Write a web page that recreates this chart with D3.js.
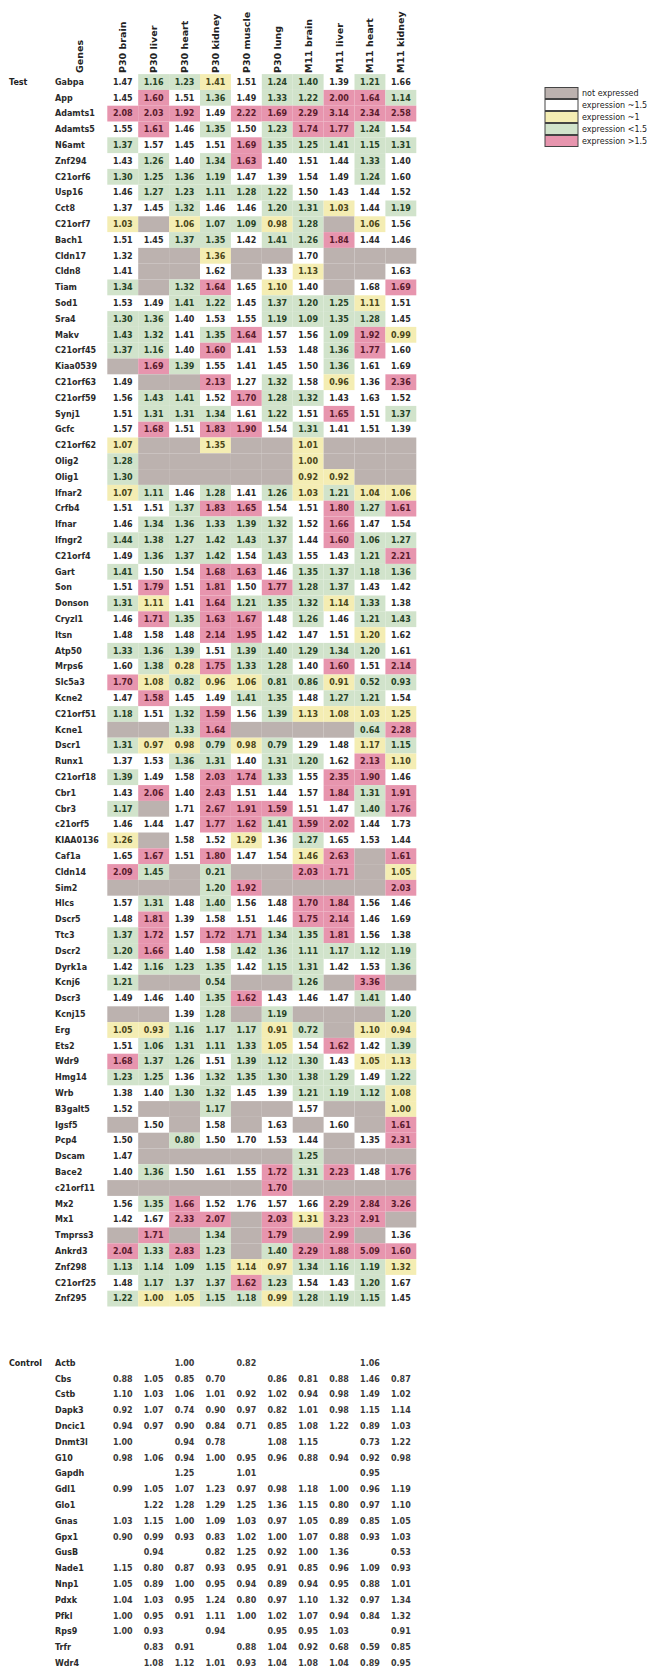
<!DOCTYPE html>
<html>
<head>
<meta charset="utf-8">
<script src="https://cdn.jsdelivr.net/npm/d3@7"></script>
<style>
  body { margin: 0; background: #fff; }
  svg text { font-family: "DejaVu Sans", Verdana, sans-serif; }
</style>
</head>
<body>
<svg id="chart" width="647" height="1667"></svg>
<script>
// column headers
var columns = ["P30 brain", "P30 liver", "P30 heart", "P30 kidney", "P30 muscle",
               "P30 lung", "M11 brain", "M11 liver", "M11 heart", "M11 kidney"];

var testGenes = ["Gabpa", "App", "Adamts1", "Adamts5", "N6amt", "Znf294", "C21orf6", "Usp16", "Cct8",
  "C21orf7", "Bach1", "Cldn17", "Cldn8", "Tiam", "Sod1", "Sra4", "Makv", "C21orf45", "Kiaa0539",
  "C21orf63", "C21orf59", "Synj1", "Gcfc", "C21orf62", "Olig2", "Olig1", "Ifnar2", "Crfb4", "Ifnar",
  "Ifngr2", "C21orf4", "Gart", "Son", "Donson", "Cryzl1", "Itsn", "Atp50", "Mrps6", "Slc5a3", "Kcne2",
  "C21orf51", "Kcne1", "Dscr1", "Runx1", "C21orf18", "Cbr1", "Cbr3", "c21orf5", "KIAA0136", "Caf1a",
  "Cldn14", "Sim2", "Hlcs", "Dscr5", "Ttc3", "Dscr2", "Dyrk1a", "Kcnj6", "Dscr3", "Kcnj15", "Erg",
  "Ets2", "Wdr9", "Hmg14", "Wrb", "B3galt5", "Igsf5", "Pcp4", "Dscam", "Bace2", "c21orf11", "Mx2",
  "Mx1", "Tmprss3", "Ankrd3", "Znf298", "C21orf25", "Znf295"];

// ratio values, null = not expressed
var testValues = [
  [1.47, 1.16, 1.23, 1.41, 1.51, 1.24, 1.40, 1.39, 1.21, 1.66],
  [1.45, 1.60, 1.51, 1.36, 1.49, 1.33, 1.22, 2.00, 1.64, 1.14],
  [2.08, 2.03, 1.92, 1.49, 2.22, 1.69, 2.29, 3.14, 2.34, 2.58],
  [1.55, 1.61, 1.46, 1.35, 1.50, 1.23, 1.74, 1.77, 1.24, 1.54],
  [1.37, 1.57, 1.45, 1.51, 1.69, 1.35, 1.25, 1.41, 1.15, 1.31],
  [1.43, 1.26, 1.40, 1.34, 1.63, 1.40, 1.51, 1.44, 1.33, 1.40],
  [1.30, 1.25, 1.36, 1.19, 1.47, 1.39, 1.54, 1.49, 1.24, 1.60],
  [1.46, 1.27, 1.23, 1.11, 1.28, 1.22, 1.50, 1.43, 1.44, 1.52],
  [1.37, 1.45, 1.32, 1.46, 1.46, 1.20, 1.31, 1.03, 1.44, 1.19],
  [1.03, null, 1.06, 1.07, 1.09, 0.98, 1.28, null, 1.06, 1.56],
  [1.51, 1.45, 1.37, 1.35, 1.42, 1.41, 1.26, 1.84, 1.44, 1.46],
  [1.32, null, null, 1.36, null, null, 1.70, null, null, null],
  [1.41, null, null, 1.62, null, 1.33, 1.13, null, null, 1.63],
  [1.34, null, 1.32, 1.64, 1.65, 1.10, 1.40, null, 1.68, 1.69],
  [1.53, 1.49, 1.41, 1.22, 1.45, 1.37, 1.20, 1.25, 1.11, 1.51],
  [1.30, 1.36, 1.40, 1.53, 1.55, 1.19, 1.09, 1.35, 1.28, 1.45],
  [1.43, 1.32, 1.41, 1.35, 1.64, 1.57, 1.56, 1.09, 1.92, 0.99],
  [1.37, 1.16, 1.40, 1.60, 1.41, 1.53, 1.48, 1.36, 1.77, 1.60],
  [null, 1.69, 1.39, 1.55, 1.41, 1.45, 1.50, 1.36, 1.61, 1.69],
  [1.49, null, null, 2.13, 1.27, 1.32, 1.58, 0.96, 1.36, 2.36],
  [1.56, 1.43, 1.41, 1.52, 1.70, 1.28, 1.32, 1.43, 1.63, 1.52],
  [1.51, 1.31, 1.31, 1.34, 1.61, 1.22, 1.51, 1.65, 1.51, 1.37],
  [1.57, 1.68, 1.51, 1.83, 1.90, 1.54, 1.31, 1.41, 1.51, 1.39],
  [1.07, null, null, 1.35, null, null, 1.01, null, null, null],
  [1.28, null, null, null, null, null, 1.00, null, null, null],
  [1.30, null, null, null, null, null, 0.92, 0.92, null, null],
  [1.07, 1.11, 1.46, 1.28, 1.41, 1.26, 1.03, 1.21, 1.04, 1.06],
  [1.51, 1.51, 1.37, 1.83, 1.65, 1.54, 1.51, 1.80, 1.27, 1.61],
  [1.46, 1.34, 1.36, 1.33, 1.39, 1.32, 1.52, 1.66, 1.47, 1.54],
  [1.44, 1.38, 1.27, 1.42, 1.43, 1.37, 1.44, 1.60, 1.06, 1.27],
  [1.49, 1.36, 1.37, 1.42, 1.54, 1.43, 1.55, 1.43, 1.21, 2.21],
  [1.41, 1.50, 1.54, 1.68, 1.63, 1.46, 1.35, 1.37, 1.18, 1.36],
  [1.51, 1.79, 1.51, 1.81, 1.50, 1.77, 1.28, 1.37, 1.43, 1.42],
  [1.31, 1.11, 1.41, 1.64, 1.21, 1.35, 1.32, 1.14, 1.33, 1.38],
  [1.46, 1.71, 1.35, 1.63, 1.67, 1.48, 1.26, 1.46, 1.21, 1.43],
  [1.48, 1.58, 1.48, 2.14, 1.95, 1.42, 1.47, 1.51, 1.20, 1.62],
  [1.33, 1.36, 1.39, 1.51, 1.39, 1.40, 1.29, 1.34, 1.20, 1.61],
  [1.60, 1.38, 0.28, 1.75, 1.33, 1.28, 1.40, 1.60, 1.51, 2.14],
  [1.70, 1.08, 0.82, 0.96, 1.06, 0.81, 0.86, 0.91, 0.52, 0.93],
  [1.47, 1.58, 1.45, 1.49, 1.41, 1.35, 1.48, 1.27, 1.21, 1.54],
  [1.18, 1.51, 1.32, 1.59, 1.56, 1.39, 1.13, 1.08, 1.03, 1.25],
  [null, null, 1.33, 1.64, null, null, null, null, 0.64, 2.28],
  [1.31, 0.97, 0.98, 0.79, 0.98, 0.79, 1.29, 1.48, 1.17, 1.15],
  [1.37, 1.53, 1.36, 1.31, 1.40, 1.31, 1.20, 1.62, 2.13, 1.10],
  [1.39, 1.49, 1.58, 2.03, 1.74, 1.33, 1.55, 2.35, 1.90, 1.46],
  [1.43, 2.06, 1.40, 2.43, 1.51, 1.44, 1.57, 1.84, 1.31, 1.91],
  [1.17, null, 1.71, 2.67, 1.91, 1.59, 1.51, 1.47, 1.40, 1.76],
  [1.46, 1.44, 1.47, 1.77, 1.62, 1.41, 1.59, 2.02, 1.44, 1.73],
  [1.26, null, 1.58, 1.52, 1.29, 1.36, 1.27, 1.65, 1.53, 1.44],
  [1.65, 1.67, 1.51, 1.80, 1.47, 1.54, 1.46, 2.63, null, 1.61],
  [2.09, 1.45, null, 0.21, null, null, 2.03, 1.71, null, 1.05],
  [null, null, null, 1.20, 1.92, null, null, null, null, 2.03],
  [1.57, 1.31, 1.48, 1.40, 1.56, 1.48, 1.70, 1.84, 1.56, 1.46],
  [1.48, 1.81, 1.39, 1.58, 1.51, 1.46, 1.75, 2.14, 1.46, 1.69],
  [1.37, 1.72, 1.57, 1.72, 1.71, 1.34, 1.35, 1.81, 1.56, 1.38],
  [1.20, 1.66, 1.40, 1.58, 1.42, 1.36, 1.11, 1.17, 1.12, 1.19],
  [1.42, 1.16, 1.23, 1.35, 1.42, 1.15, 1.31, 1.42, 1.53, 1.36],
  [1.21, null, null, 0.54, null, null, 1.26, null, 3.36, null],
  [1.49, 1.46, 1.40, 1.35, 1.62, 1.43, 1.46, 1.47, 1.41, 1.40],
  [null, null, 1.39, 1.28, null, 1.19, null, null, null, 1.20],
  [1.05, 0.93, 1.16, 1.17, 1.17, 0.91, 0.72, null, 1.10, 0.94],
  [1.51, 1.06, 1.31, 1.11, 1.33, 1.05, 1.54, 1.62, 1.42, 1.39],
  [1.68, 1.37, 1.26, 1.51, 1.39, 1.12, 1.30, 1.43, 1.05, 1.13],
  [1.23, 1.25, 1.36, 1.32, 1.35, 1.30, 1.38, 1.29, 1.49, 1.22],
  [1.38, 1.40, 1.30, 1.32, 1.45, 1.39, 1.21, 1.19, 1.12, 1.08],
  [1.52, null, null, 1.17, null, null, 1.57, null, null, 1.00],
  [null, 1.50, null, 1.58, null, 1.63, null, 1.60, null, 1.61],
  [1.50, null, 0.80, 1.50, 1.70, 1.53, 1.44, null, 1.35, 2.31],
  [1.47, null, null, null, null, null, 1.25, null, null, null],
  [1.40, 1.36, 1.50, 1.61, 1.55, 1.72, 1.31, 2.23, 1.48, 1.76],
  [null, null, null, null, null, 1.70, null, null, null, null],
  [1.56, 1.35, 1.66, 1.52, 1.76, 1.57, 1.66, 2.29, 2.84, 3.26],
  [1.42, 1.67, 2.33, 2.07, null, 2.03, 1.31, 3.23, 2.91, null],
  [null, 1.71, null, 1.34, null, 1.79, null, 2.99, null, 1.36],
  [2.04, 1.33, 2.83, 1.23, null, 1.40, 2.29, 1.88, 5.09, 1.60],
  [1.13, 1.14, 1.09, 1.15, 1.14, 0.97, 1.34, 1.16, 1.19, 1.32],
  [1.48, 1.17, 1.37, 1.37, 1.62, 1.23, 1.54, 1.43, 1.20, 1.67],
  [1.22, 1.00, 1.05, 1.15, 1.18, 0.99, 1.28, 1.19, 1.15, 1.45]
];

// class of each cell: n not expressed, w ~1.5, y ~1, g <1.5, r >1.5
var testClasses = [
  "wggywggwgw", "wrwgwggrrg", "rrrwrrrrrr", "wrwgwgrrgw", "gwwwrggggg",
  "wgwgrwwwgw", "ggggwwwwgw", "wgggggwwww", "wwgwwggywg", "ynyggygnyw",
  "wwggwggrww", "wnnynnwnnn", "wnnwnwynnw", "gngrwywnwr", "wwggwgggyw",
  "ggwwwggggw", "ggwgrwwgry", "ggwrwwwgrw", "nrgwwwwgww", "wnnrwgwywr",
  "wggwrggwww", "wgggwgwrwg", "wrwrrwgwww", "ynnynnynnn", "gnnnnnynnn",
  "gnnnnnyynn", "ygwgwgygyy", "wwgrrwwrgr", "wgggggwrww", "ggggggwrgg",
  "wgggwgwwgr", "gwwrrwgggg", "wrwrwrggww", "gywrgggygw", "wrgrrwgwgg",
  "wwwrrwwwyw", "gggwgggggw", "wgyrggwrwr", "rygyyggygg", "wrwwggwggw",
  "gwgrwgyyyy", "nngrnnnngr", "gyygygwwyg", "wwggwggwry", "gwwrrgwrrw",
  "wrwrwwwrgr", "gnwrrrwwgr", "wwwrrgrrww", "ynwwywgwww", "wrwrwwyrnr",
  "rgngnnrrny", "nnngrnnnnr", "wgwgwwrrww", "wrwwwwrrww", "grwrrggrww",
  "grwwgggggg", "wgggwggwwg", "gnngnngnrn", "wwwgrwwwgw", "nnwgngnnng",
  "yygggygnyy", "wggggywrwg", "rggwgggwyy", "ggwgggggwg", "wwggwwgggy",
  "wnngnnwnny", "nwnwnwnwnr", "wngwwwwnwr", "wnnnnngnnn", "wgwwwrgrwr",
  "nnnnnrnnnn", "wgrwwwwrrr", "wwrrnryrrn", "nrngnrnrnw", "rgrgngrrrr",
  "ggggyygggy", "wgggrgwwgw", "gyyggygggw"
];

var controlGenes = ["Actb", "Cbs", "Cstb", "Dapk3", "Dncic1", "Dnmt3l", "G10", "Gapdh", "Gdl1", "Glo1",
  "Gnas", "Gpx1", "GusB", "Nade1", "Nnp1", "Pdxk", "Pfkl", "Rps9", "Trfr", "Wdr4"];

var controlValues = [
  [null, null, 1.00, null, 0.82, null, null, null, 1.06, null],
  [0.88, 1.05, 0.85, 0.70, null, 0.86, 0.81, 0.88, 1.46, 0.87],
  [1.10, 1.03, 1.06, 1.01, 0.92, 1.02, 0.94, 0.98, 1.49, 1.02],
  [0.92, 1.07, 0.74, 0.90, 0.97, 0.82, 1.01, 0.98, 1.15, 1.14],
  [0.94, 0.97, 0.90, 0.84, 0.71, 0.85, 1.08, 1.22, 0.89, 1.03],
  [1.00, null, 0.94, 0.78, null, 1.08, 1.15, null, 0.73, 1.22],
  [0.98, 1.06, 0.94, 1.00, 0.95, 0.96, 0.88, 0.94, 0.92, 0.98],
  [null, null, 1.25, null, 1.01, null, null, null, 0.95, null],
  [0.99, 1.05, 1.07, 1.23, 0.97, 0.98, 1.18, 1.00, 0.96, 1.19],
  [null, 1.22, 1.28, 1.29, 1.25, 1.36, 1.15, 0.80, 0.97, 1.10],
  [1.03, 1.15, 1.00, 1.09, 1.03, 0.97, 1.05, 0.89, 0.85, 1.05],
  [0.90, 0.99, 0.93, 0.83, 1.02, 1.00, 1.07, 0.88, 0.93, 1.03],
  [null, 0.94, null, 0.82, 1.25, 0.92, 1.00, 1.36, null, 0.53],
  [1.15, 0.80, 0.87, 0.93, 0.95, 0.91, 0.85, 0.96, 1.09, 0.93],
  [1.05, 0.89, 1.00, 0.95, 0.94, 0.89, 0.94, 0.95, 0.88, 1.01],
  [1.04, 1.03, 0.95, 1.24, 0.80, 0.97, 1.10, 1.32, 0.97, 1.34],
  [1.00, 0.95, 0.91, 1.11, 1.00, 1.02, 1.07, 0.94, 0.84, 1.32],
  [1.00, 0.93, null, 0.94, null, 0.95, 0.95, 1.03, null, 0.91],
  [null, 0.83, 0.91, null, 0.88, 1.04, 0.92, 0.68, 0.59, 0.85],
  [null, 1.08, 1.12, 1.01, 0.93, 1.04, 1.08, 1.04, 0.89, 0.95]
];

var legendKeys = ["n", "w", "y", "g", "r"];
var legendLabels = ["not expressed", "expression ~1.5", "expression ~1", "expression <1.5", "expression >1.5"];

var fill = {n: "#bcb2af", w: "#ffffff", y: "#f4edb3", g: "#d1e3cb", r: "#e795ae"};
var ink = {n: "#333", w: "#2a2a2a", y: "#4a4518", g: "#264226", r: "#5a1a2c"};

var svg = d3.select("#chart");
var rowH = 15.8;

var x = d3.scaleBand().domain(columns).range([107.3, 107.3 + 30.9 * columns.length]);

var yTest = d3.scaleBand().domain(testGenes)
    .range([82 - rowH / 2, 82 - rowH / 2 + rowH * testGenes.length]);

var yCtrl = d3.scaleBand().domain(controlGenes)
    .range([1363 - rowH / 2, 1363 - rowH / 2 + rowH * controlGenes.length]);

// column headers, rotated
svg.append("g").selectAll("text")
    .data(columns)
    .join("text")
    .attr("transform", function (d) {
        return "translate(" + (x(d) + x.bandwidth() / 2 + 3.5) + ",73) rotate(-90)";
    })
    .attr("font-size", 9.5)
    .attr("font-weight", "bold")
    .attr("fill", "#222")
    .text(function (d) { return d; });

svg.append("text")
    .attr("transform", "translate(83,73) rotate(-90)")
    .attr("font-size", 9.5)
    .attr("font-weight", "bold")
    .attr("fill", "#222")
    .text("Genes");

function drawBlock(label, genes, values, classes, y) {
    var g = svg.append("g");

    g.append("text")
        .attr("x", 9)
        .attr("y", y(genes[0]) + y.bandwidth() / 2)
        .attr("dy", "0.35em")
        .attr("font-size", 8)
        .attr("font-weight", "bold")
        .attr("fill", "#222")
        .text(label);

    g.selectAll("text.gene")
        .data(genes)
        .join("text")
        .attr("class", "gene")
        .attr("x", 55)
        .attr("y", function (d) { return y(d) + y.bandwidth() / 2; })
        .attr("dy", "0.35em")
        .attr("font-size", 8)
        .attr("font-weight", "bold")
        .attr("fill", "#2a2a2a")
        .text(function (d) { return d; });

    var cells = [];
    genes.forEach(function (gene, i) {
        columns.forEach(function (col, j) {
            cells.push({
                gene: gene, col: col, v: values[i][j],
                c: classes ? classes[i][j] : null
            });
        });
    });

    if (classes) {
        g.selectAll("rect.cell")
            .data(cells.filter(function (d) { return d.c !== "w"; }))
            .join("rect")
            .attr("class", "cell")
            .attr("x", function (d) { return x(d.col); })
            .attr("y", function (d) { return y(d.gene); })
            .attr("width", x.bandwidth())
            .attr("height", y.bandwidth())
            .attr("fill", function (d) { return fill[d.c]; });
    }

    g.selectAll("text.val")
        .data(cells.filter(function (d) { return d.v !== null; }))
        .join("text")
        .attr("class", "val")
        .attr("x", function (d) { return x(d.col) + x.bandwidth() / 2; })
        .attr("y", function (d) { return y(d.gene) + y.bandwidth() / 2; })
        .attr("dy", "0.35em")
        .attr("text-anchor", "middle")
        .attr("font-size", 8)
        .attr("font-weight", "bold")
        .attr("fill", function (d) { return d.c ? ink[d.c] : "#3a3a3a"; })
        .text(function (d) { return d3.format(".2f")(d.v); });
}

drawBlock("Test", testGenes, testValues, testClasses, yTest);
drawBlock("Control", controlGenes, controlValues, null, yCtrl);

// legend
var ly = d3.scaleBand().domain(legendKeys).range([87, 87 + 12 * legendKeys.length]);
var leg = svg.append("g");
leg.selectAll("rect")
    .data(legendKeys)
    .join("rect")
    .attr("x", 545)
    .attr("y", function (d) { return ly(d) + 0.5; })
    .attr("width", 33)
    .attr("height", ly.bandwidth() - 1)
    .attr("fill", function (d) { return fill[d]; })
    .attr("stroke", "#444")
    .attr("stroke-width", 1);
leg.selectAll("text")
    .data(legendKeys)
    .join("text")
    .attr("x", 582)
    .attr("y", function (d) { return ly(d) + ly.bandwidth() / 2; })
    .attr("dy", "0.35em")
    .attr("font-size", 8)
    .attr("fill", "#222")
    .text(function (d, i) { return legendLabels[i]; });
</script>
</body>
</html>
